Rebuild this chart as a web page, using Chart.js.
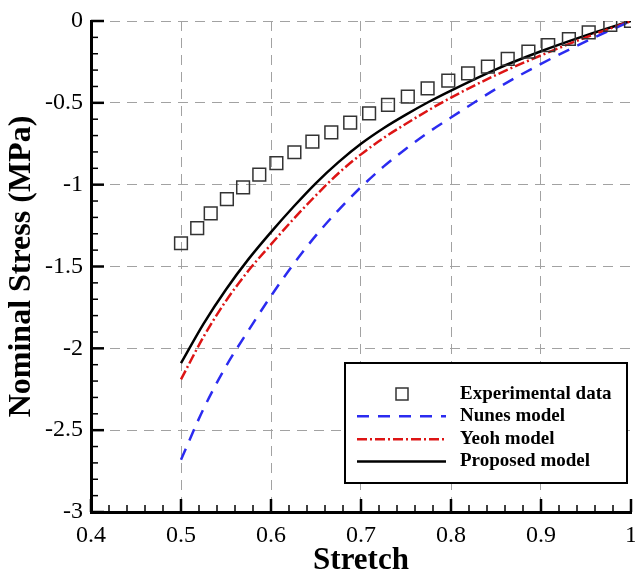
<!DOCTYPE html>
<html>
<head>
<meta charset="utf-8">
<script src="https://cdn.jsdelivr.net/npm/chart.js@4/dist/chart.umd.min.js"></script>
<style>
html,body{margin:0;padding:0;background:#fff;}
#wrap{width:635px;height:573px;position:relative;}
</style>
</head>
<body>
<div id="wrap"><canvas id="c" width="635" height="573"></canvas></div>
<script>
// ---- data ----
const stretchExp = [0.500,0.518,0.533,0.551,0.569,0.587,0.606,0.626,0.646,0.667,0.688,0.709,0.730,0.752,0.774,0.797,0.819,0.841,0.863,0.886,0.908,0.931,0.953,0.977,1.000];
const stressExp  = [-1.358,-1.266,-1.175,-1.089,-1.016,-0.939,-0.869,-0.802,-0.737,-0.680,-0.621,-0.564,-0.513,-0.462,-0.411,-0.365,-0.320,-0.279,-0.232,-0.187,-0.147,-0.110,-0.069,-0.024,0.000];

const stretchModel   = [0.50,0.525,0.55,0.575,0.60,0.625,0.65,0.675,0.70,0.725,0.75,0.775,0.80,0.85,0.90,0.95,1.00];
const nunesStress    = [-2.68,-2.37,-2.11,-1.89,-1.68,-1.485,-1.31,-1.155,-1.015,-0.89,-0.78,-0.68,-0.59,-0.415,-0.262,-0.125,0];
const yeohStress     = [-2.19,-1.93,-1.71,-1.525,-1.365,-1.21,-1.065,-0.93,-0.815,-0.715,-0.628,-0.545,-0.468,-0.33,-0.21,-0.10,0];
const proposedStress = [-2.09,-1.85,-1.64,-1.455,-1.29,-1.135,-0.99,-0.862,-0.75,-0.655,-0.572,-0.495,-0.425,-0.295,-0.185,-0.088,0];

const seriesNames = ['Experimental data','Nunes model','Yeoh model','Proposed model'];
const xTitle = 'Stretch';
const yTitle = 'Nominal Stress (MPa)';

const toPoints = (xs, ys) => xs.map((x, i) => ({x: x, y: ys[i]}));
const SERIF = '"Liberation Serif", "Times New Roman", serif';

// inward major/minor ticks on the left and bottom axes
const axisTicks = {
  id: 'axisTicks',
  afterDatasetsDraw(chart) {
    const {ctx, chartArea: a, scales: {x, y}} = chart;
    ctx.save();
    ctx.strokeStyle = '#000';
    ctx.lineCap = 'butt';
    for (let i = 0; i <= 30; i++) {
      const v = 0.4 + i * 0.02;
      const px = x.getPixelForValue(v);
      const major = i % 5 === 0;
      ctx.lineWidth = major ? 2.5 : 1.5;
      ctx.beginPath();
      ctx.moveTo(px, a.bottom);
      ctx.lineTo(px, a.bottom - (major ? 13 : 7));
      ctx.stroke();
    }
    for (let i = 0; i <= 30; i++) {
      const v = -3 + i * 0.1;
      const py = y.getPixelForValue(v);
      const major = i % 5 === 0;
      ctx.lineWidth = major ? 2.5 : 1.5;
      ctx.beginPath();
      ctx.moveTo(a.left, py);
      ctx.lineTo(a.left + (major ? 13 : 7), py);
      ctx.stroke();
    }
    ctx.restore();
  }
};

// boxed legend inside the plot, built from the datasets
const boxLegend = {
  id: 'boxLegend',
  afterDraw(chart) {
    const {ctx, chartArea: a} = chart;
    const l = a.right - 286, t = a.top + 342, r = a.right - 4, b = a.top + 462;
    ctx.save();
    ctx.fillStyle = '#fff';
    ctx.fillRect(l, t, r - l, b - t);
    ctx.lineWidth = 2;
    ctx.strokeStyle = '#000';
    ctx.strokeRect(l, t, r - l, b - t);
    const rows = [t + 31, t + 53.3, t + 76.3, t + 98.5];
    const x0 = l + 12, x1 = l + 101, xm = l + 57, tx = l + 115;
    chart.data.datasets.forEach((ds, i) => {
      const yy = rows[i];
      if (ds.showLine === false) {
        ctx.setLineDash([]);
        ctx.lineWidth = 1.5;
        ctx.strokeStyle = ds.borderColor;
        ctx.strokeRect(xm - 6, yy - 6, 12, 12);
      } else {
        ctx.setLineDash(ds.borderDash || []);
        ctx.lineWidth = ds.borderWidth;
        ctx.strokeStyle = ds.borderColor;
        ctx.beginPath();
        ctx.moveTo(x0, yy);
        ctx.lineTo(x1, yy);
        ctx.stroke();
      }
      ctx.setLineDash([]);
      ctx.fillStyle = '#000';
      ctx.font = 'bold 19px ' + SERIF;
      ctx.textBaseline = 'middle';
      ctx.textAlign = 'left';
      ctx.fillText(ds.label, tx, yy);
    });
    ctx.restore();
  }
};

const gridColor = '#a2a2a2';

new Chart(document.getElementById('c'), {
  type: 'scatter',
  data: {
    datasets: [
      {
        label: seriesNames[0],
        data: toPoints(stretchExp, stressExp),
        showLine: false,
        pointStyle: 'rect',
        pointRadius: 9,
        pointBorderWidth: 1.5,
        borderColor: '#333',
        backgroundColor: 'rgba(0,0,0,0)',
        pointBackgroundColor: 'rgba(0,0,0,0)',
        pointBorderColor: '#333'
      },
      {
        label: seriesNames[1],
        data: toPoints(stretchModel, nunesStress),
        showLine: true,
        pointRadius: 0,
        borderColor: '#2b2bf0',
        borderWidth: 2.5,
        borderDash: [12, 9],
        cubicInterpolationMode: 'monotone'
      },
      {
        label: seriesNames[2],
        data: toPoints(stretchModel, yeohStress),
        showLine: true,
        pointRadius: 0,
        borderColor: '#dd1414',
        borderWidth: 2.5,
        borderDash: [10, 3, 2, 3],
        cubicInterpolationMode: 'monotone'
      },
      {
        label: seriesNames[3],
        data: toPoints(stretchModel, proposedStress),
        showLine: true,
        pointRadius: 0,
        borderColor: '#000',
        borderWidth: 2.5,
        cubicInterpolationMode: 'monotone'
      }
    ]
  },
  options: {
    responsive: false,
    devicePixelRatio: 1,
    animation: false,
    layout: {autoPadding: false, padding: {top: 21, right: 4, bottom: 0, left: 0}},
    plugins: {legend: {display: false}, tooltip: {enabled: false}},
    scales: {
      x: {
        type: 'linear',
        min: 0.4, max: 1.0,
        ticks: {
          stepSize: 0.1,
          padding: 9,
          color: '#000',
          font: {family: SERIF, size: 24},
          callback: v => (Math.abs(v - 1) < 1e-9 ? '1' : v.toFixed(1))
        },
        grid: {
          drawTicks: false,
          lineWidth: 1,
          color: c => (c.tick && Math.abs(c.tick.value - 1) < 1e-9 ? 'rgba(0,0,0,0)' : gridColor)
        },
        border: {display: true, color: '#000', width: 3, dash: [10, 7]},
        title: {
          display: true, text: xTitle, color: '#000',
          font: {family: SERIF, size: 31, weight: 'bold'},
          padding: {top: 0, bottom: -7}
        },
        afterFit: s => { s.height = 61; s.paddingLeft = 0; s.paddingRight = 0; }
      },
      y: {
        type: 'linear',
        min: -3, max: 0,
        ticks: {
          stepSize: 0.5,
          padding: 8,
          color: '#000',
          font: {family: SERIF, size: 24},
          callback: v => String(Math.round(v * 10) / 10)
        },
        grid: {drawTicks: false, lineWidth: 1, color: gridColor},
        border: {display: true, color: '#000', width: 3, dash: [10, 7]},
        title: {
          display: true, text: yTitle, color: '#000',
          font: {family: SERIF, size: 32, weight: 'bold'},
          padding: {top: 3, bottom: 0}
        },
        afterFit: s => { s.width = 91; s.paddingTop = 0; s.paddingBottom = 0; }
      }
    }
  },
  plugins: [axisTicks, boxLegend]
});
</script>
</body>
</html>
